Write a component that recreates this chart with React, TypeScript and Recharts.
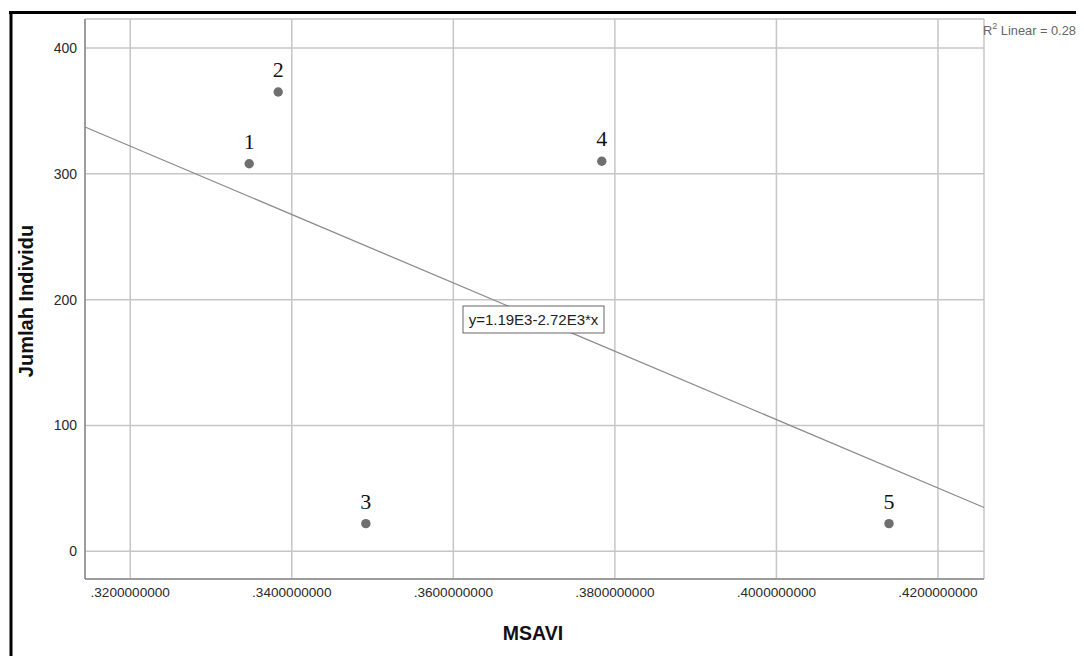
import React from 'react';
import { ScatterChart, Scatter, XAxis, YAxis, CartesianGrid, ReferenceLine } from 'recharts';

const caseIds = ['1', '2', '3', '4', '5'];
const msaviValues = [0.33473, 0.33832, 0.34917, 0.37838, 0.41394];
const individuValues = [308, 365, 22, 310, 22];
const xTicks = [0.32, 0.34, 0.36, 0.38, 0.4, 0.42];
const yTicks = [0, 100, 200, 300, 400];
const xDomain: [number, number] = [0.3144, 0.4257];
const yDomain: [number, number] = [-22, 423];
const equationText = 'y=1.19E3-2.72E3*x';
const r2Text = '0.28';

const points = caseIds.map((id, i) => ({ id, x: msaviValues[i], y: individuValues[i] }));

// least-squares fit from the data
const n = msaviValues.length;
const mx = msaviValues.reduce((a, b) => a + b, 0) / n;
const my = individuValues.reduce((a, b) => a + b, 0) / n;
let sxy = 0;
let sxx = 0;
for (let i = 0; i < n; i++) {
  sxy += (msaviValues[i] - mx) * (individuValues[i] - my);
  sxx += (msaviValues[i] - mx) ** 2;
}
const slope = sxy / sxx;
const intercept = my - slope * mx;
const fitSegment = [
  { x: xDomain[0], y: intercept + slope * xDomain[0] },
  { x: xDomain[1], y: intercept + slope * xDomain[1] },
];

const FONT = "Arial, 'Liberation Sans', sans-serif";
const SERIF = "'Times New Roman', 'Liberation Serif', serif";

const PointShape = (props: any) => {
  const { cx, cy, payload } = props;
  return (
    <g>
      <circle cx={cx} cy={cy} r={4.7} fill="#6f6f6f" />
      <text x={cx} y={cy - 15} textAnchor="middle" fontFamily={SERIF} fontSize={22} fill="#111">
        {payload.id}
      </text>
    </g>
  );
};

export default function App() {
  const W = 1076;
  const H = 648;
  return (
    <div style={{ position: 'relative', width: W, height: H, overflow: 'hidden', background: '#fff' }}>
      <ScatterChart width={W} height={H} margin={{ top: 11, right: 100, left: 0, bottom: 0 }}>
        <CartesianGrid stroke="#c6c6c6" strokeWidth={1.5} />
        <XAxis
          type="number"
          dataKey="x"
          domain={xDomain}
          allowDataOverflow
          ticks={xTicks}
          tickFormatter={(v: number) => v.toFixed(10).slice(1)}
          height={77}
          tickLine={false}
          tickSize={6}
          tickMargin={2}
          axisLine={{ stroke: '#8a8a8a', strokeWidth: 1.5 }}
          tick={{ fill: '#2a2a2a', fontSize: 13.6, fontFamily: FONT }}
        />
        <YAxis
          type="number"
          dataKey="y"
          domain={yDomain}
          allowDataOverflow
          ticks={yTicks}
          width={77}
          tickLine={false}
          tickSize={6}
          tickMargin={2}
          axisLine={{ stroke: '#8a8a8a', strokeWidth: 1.5 }}
          tick={{ fill: '#2a2a2a', fontSize: 14, fontFamily: FONT }}
        />
        <ReferenceLine segment={fitSegment} stroke="#8c8c8c" strokeWidth={1.3} ifOverflow="visible" />
        <Scatter data={points} isAnimationActive={false} shape={PointShape} />
      </ScatterChart>
      <svg width={W} height={H} style={{ position: 'absolute', left: 0, top: 0, pointerEvents: 'none' }}>
        <line x1={1} y1={4.5} x2={W} y2={4.5} stroke="#000" strokeWidth={3} />
        <line x1={3} y1={3} x2={3} y2={H} stroke="#000" strokeWidth={3} />
        <text
          transform="translate(25,293) rotate(-90)"
          textAnchor="middle"
          fontFamily={FONT}
          fontWeight="bold"
          fontSize={20}
          fill="#111"
        >
          Jumlah Individu
        </text>
        <text x={525} y={632} textAnchor="middle" fontFamily={FONT} fontWeight="bold" fontSize={19.5} fill="#111">
          MSAVI
        </text>
        <text x={975} y={27} fontFamily={FONT} fontSize={12.8} fill="#666">
          R<tspan fontSize={9} dy={-6}>2</tspan>
          <tspan dy={6}>{' Linear = ' + r2Text}</tspan>
        </text>
        <rect x={455} y={298} width={141} height={27} fill="#fff" stroke="#666" strokeWidth={1} />
        <text x={525.5} y={317} textAnchor="middle" fontFamily={FONT} fontSize={15} fill="#222">
          {equationText}
        </text>
      </svg>
    </div>
  );
}
